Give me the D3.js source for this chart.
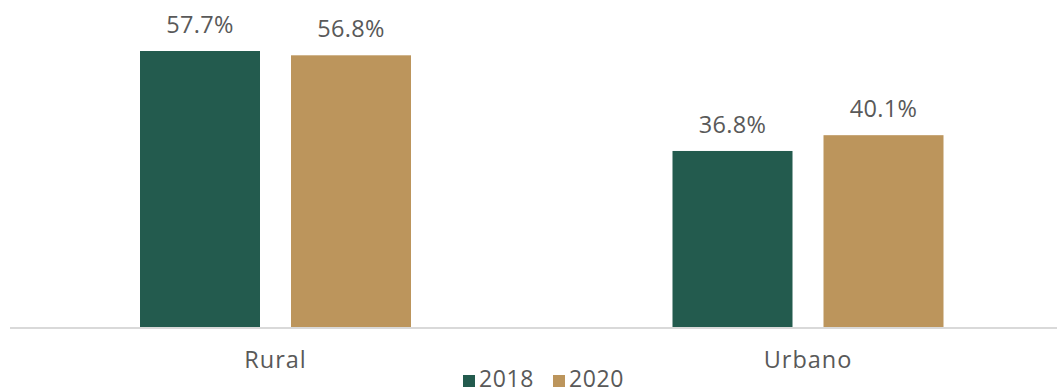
<!DOCTYPE html>
<html><head><meta charset="utf-8">
<script src="https://cdn.jsdelivr.net/npm/d3@7"></script>
<style>body{margin:0;background:#fff;} svg{display:block;} text{font-family:"Open Sans",sans-serif;fill:#595959;}</style>
</head><body>
<svg id="c" width="1057" height="392"></svg>
<script>
const categories = ["Rural", "Urbano"];
const seriesNames = ["2018", "2020"];
const values2018 = [57.7, 36.8];
const values2020 = [56.8, 40.1];
const colors = ["#235B4E", "#BC955C"];

const svg = d3.select("#c");
const baseY = 327;
const FS = 23.5;
const x0 = d3.scaleBand().domain(categories).range([9.25, 1074.25]).padding(0);
const groupW = 271;
const x1 = d3.scaleBand().domain(seriesNames).range([0, groupW]).paddingInner(31/151).paddingOuter(0);
const y = d3.scaleLinear().domain([0, 57.7]).range([baseY, 51]);

const data = categories.map((c, i) => ({cat: c, vals: [values2018[i], values2020[i]]}));

const g = svg.append("g");
const groups = g.selectAll("g.grp").data(data).join("g")
  .attr("transform", d => `translate(${x0(d.cat) + (x0.bandwidth() - groupW) / 2},0)`);

groups.selectAll("rect").data(d => d.vals.map((v, j) => ({s: seriesNames[j], v, j})))
  .join("rect")
  .attr("x", d => x1(d.s))
  .attr("width", x1.bandwidth())
  .attr("y", d => y(d.v))
  .attr("height", d => baseY - y(d.v))
  .attr("fill", d => colors[d.j]);

groups.selectAll("text.lbl").data(d => d.vals.map((v, j) => ({s: seriesNames[j], v, j})))
  .join("text").attr("class", "lbl")
  .attr("x", d => x1(d.s) + x1.bandwidth() / 2)
  .attr("y", d => y(d.v) - 18)
  .attr("text-anchor", "middle")
  .attr("font-size", FS)
  .attr("letter-spacing", 0.3)
  .text(d => d.v.toFixed(1) + "%");

// baseline
svg.append("line").attr("x1", 10).attr("x2", 1057).attr("y1", baseY + 1).attr("y2", baseY + 1)
  .attr("stroke", "#d9d9d9").attr("stroke-width", 2);

// category axis labels
const xAxis = d3.axisBottom(x0).tickSize(0).tickPadding(0);
const ax = svg.append("g").attr("transform", `translate(0,${baseY})`).call(xAxis);
ax.select(".domain").remove();
ax.selectAll("text").attr("font-size", FS).attr("dy", null).attr("y", 41)
  .attr("letter-spacing", 1)
  .style("font-family", '"Open Sans",sans-serif').attr("fill", "#595959");

// legend
const legendX = [463, 553];
const leg = svg.append("g");
seriesNames.forEach((s, i) => {
  leg.append("rect").attr("x", legendX[i]).attr("y", 375).attr("width", 12).attr("height", 12).attr("fill", colors[i]);
  leg.append("text").attr("x", legendX[i] + 16).attr("y", 386.5).attr("font-size", 23).attr("letter-spacing", 0.6).text(s);
});
</script>
</body></html>
